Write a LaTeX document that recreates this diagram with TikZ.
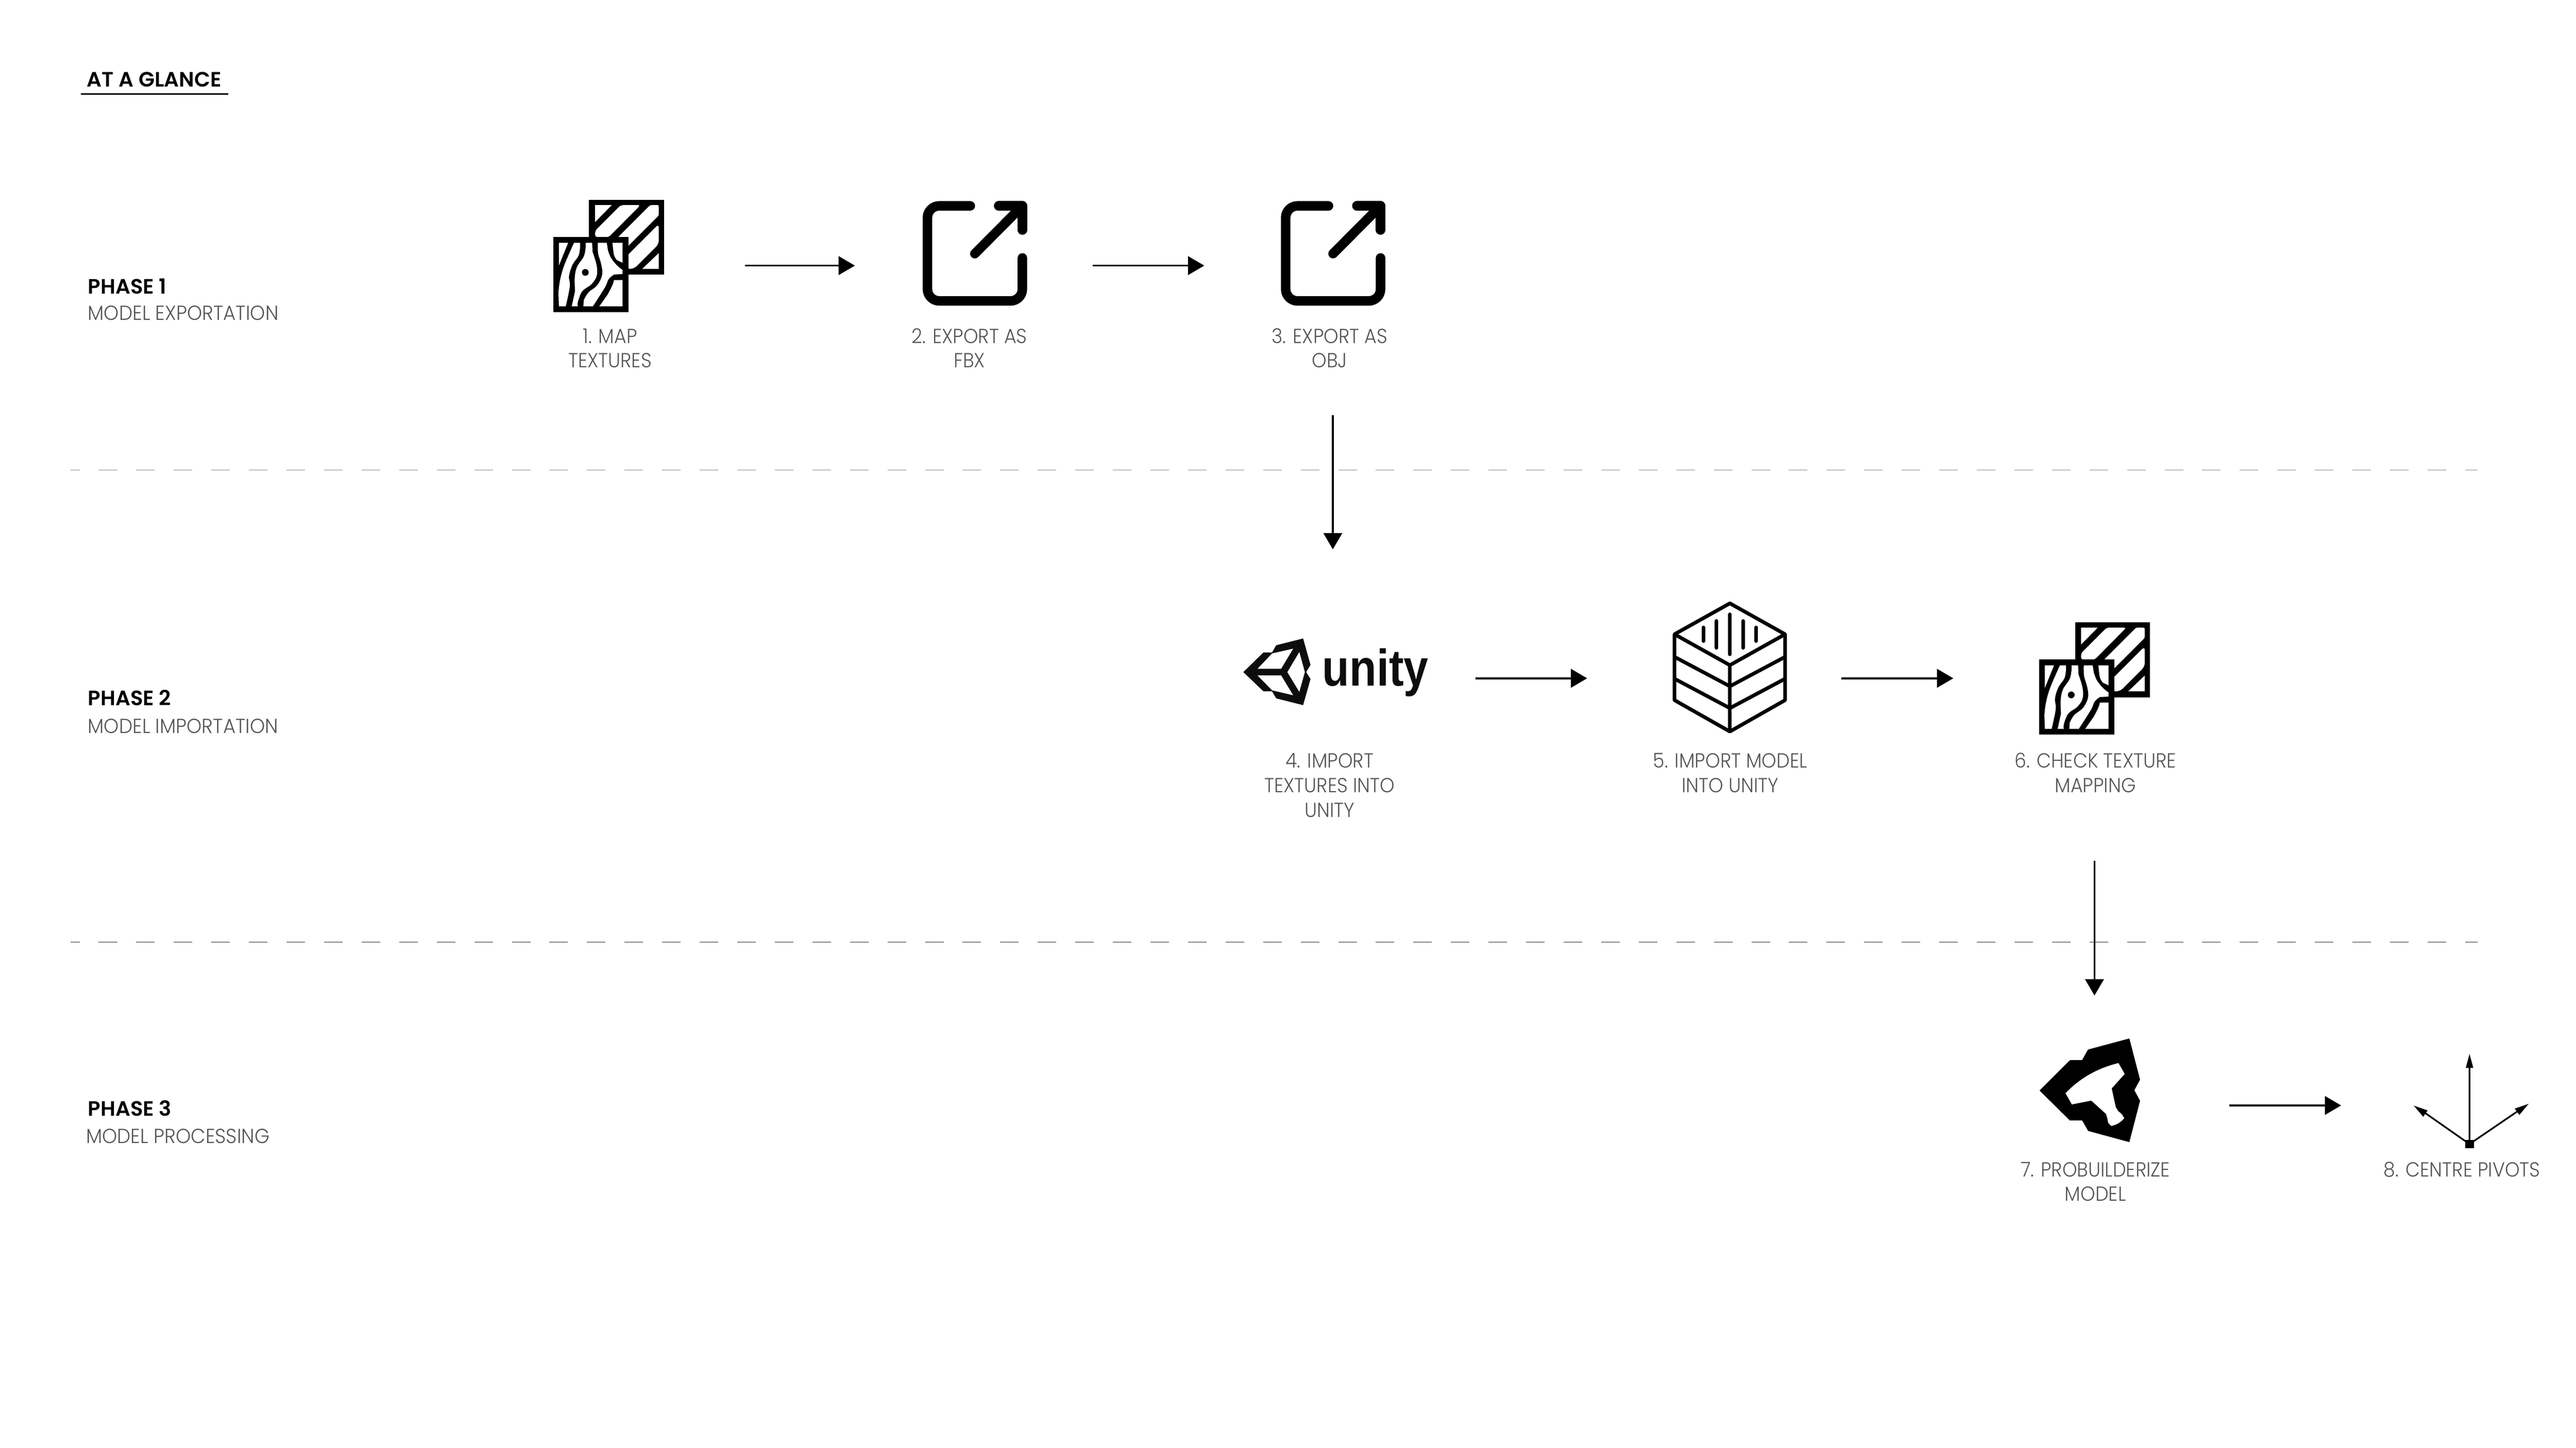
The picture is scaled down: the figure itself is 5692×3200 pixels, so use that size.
\documentclass[tikz,border=0pt]{standalone}
\usepackage{fontspec}
\usetikzlibrary{arrows.meta}
\setmainfont{Poppins}
\newfontfamily\lightf[FakeStretch=0.92]{Poppins Light}
\newfontfamily\subf[FakeStretch=0.94]{Poppins Light}
\newfontfamily\medf[FakeStretch=1.0]{Poppins SemiBold}
\newfontfamily\unityf{Liberation Sans}
\definecolor{lbl}{HTML}{555555}
\definecolor{dashc}{HTML}{888888}
\tikzset{
  flow/.style={line width=4pt,-{Triangle[length=36pt,width=41pt]}},
  slot/.style={inner sep=0pt,outer sep=0pt,draw=none},
  steplabel/.style={anchor=north,align=center,inner sep=0pt,text=lbl,font=\lightf\fontsize{45}{54.5}\selectfont},
  phasehead/.style={anchor=base west,inner sep=0pt,text=black,font=\medf\fontsize{46}{54}\selectfont},
  phasesub/.style={anchor=base west,inner sep=0pt,text=lbl,font=\subf\fontsize{45}{54}\selectfont},
  zoomed/.style={x=0.33333pt,y=-0.33333pt},
  divider/.style={line width=1.8pt,dashc,dash pattern=on 41pt off 42pt,dash phase=21pt},
  texicon/.pic={
    % back square
    \fill (455,124) rectangle (953,622);
    \fill[white] (495,160) -- (605,160) -- (495,272) -- cycle;
    \fill[white,rounded corners=5pt] (665,160) -- (795,160) -- (585,372) -- (495,372) -- (495,330) -- cycle;
    \fill[white,rounded corners=3pt] (860,160) -- (917,160) -- (917,228) -- (645,500) -- (645,375) -- cycle;
    \fill[white,rounded corners=8pt] (917,285) -- (917,418) -- (753,582) -- (700,582) -- (700,502) -- cycle;
    \fill[white] (917,478) -- (917,582) -- (808,582) -- cycle;
    % front square
    \fill (217,372) rectangle (715,869);
    \fill[white] (255,410) -- (316,410) -- (255,560) -- cycle;
    \fill[white] (355,410) -- (395,410) -- plot[smooth,tension=.6] coordinates {(395,440) (385,495) (345,555) (322,630) (327,700) (300,831)} -- (255,831) -- plot[smooth,tension=.6] coordinates {(252,740) (262,660) (290,560) (355,410)} -- cycle;
    \fill[white] (432,410) -- (475,410) -- plot[smooth,tension=.6] coordinates {(478,470) (505,560) (505,630) (470,685) (410,730) (381,800) (381,831)} -- (340,831) -- plot[smooth,tension=.6] coordinates {(362,730) (360,640) (375,570) (420,500) (432,440) (432,410)} -- cycle;
    \fill (430,606) circle[radius=7.5pt];
    \fill[white] (513,410) -- (572,410) -- plot[smooth,tension=.6] coordinates {(580,460) (600,510) (640,560) (677,590)} -- (677,617) -- plot[smooth,tension=.6] coordinates {(620,620) (585,650) (560,705) (480,831)} -- (417,831) -- plot[smooth,tension=.6] coordinates {(420,790) (450,740) (510,690) (542,620) (535,550) (515,480) (513,410)} -- cycle;
    \fill[white] (610,410) -- (677,410) -- (677,542) -- plot[smooth,tension=.6] coordinates {(640,525) (620,490) (610,410)} -- cycle;
    \fill[white] (620,657) -- (677,657) -- (677,831) -- (523,831) -- plot[smooth,tension=.6] coordinates {(580,750) (610,690) (620,657)} -- cycle;
  },
  exporticon/.pic={
    \draw[line width=21pt,line cap=round,rounded corners=26pt] (432,165) -- (148,165) -- (148,795) -- (777,795) -- (777,510);
    \draw[line width=21pt,line cap=round,line join=round] (462,482) -- (777,165);
    \draw[line width=21pt,line cap=round,line join=round] (620,165) -- (777,165) -- (777,325);
  }
}
\begin{document}
\begin{tikzpicture}[x=1pt,y=-1pt]
\useasboundingbox (0,0) rectangle (5692,3200);
\fill[white] (0,0) rectangle (5692,3200);

% title
\node[phasehead] (title) at (192,192) {AT A GLANCE};
\draw[line width=4pt] (179,208) -- (504,208);

% phase labels
\node[phasehead] (p1) at (194,650) {PHASE 1};
\node[phasesub] (p1s) at (194,707) {MODEL EXPORTATION};
\node[phasehead] (p2) at (194,1559) {PHASE 2};
\node[phasesub] (p2s) at (194,1621) {MODEL IMPORTATION};
\node[phasehead] (p3) at (194,2466) {PHASE 3};
\node[phasesub] (p3s) at (190,2527) {MODEL PROCESSING};

% dividers
\draw[divider] (156,1039) -- (5475,1039);
\draw[divider] (156,2082) -- (5475,2082);

% invisible slots the connectors run between
\node[slot,minimum width=592pt,minimum height=300pt] (s1) at (1350,587) {};
\node[slot,minimum width=525pt,minimum height=300pt] (s2) at (2151.5,587) {};
\node[slot,minimum width=568pt,minimum height=660pt] (s3) at (2945,587) {};
\node[slot,minimum width=630pt,minimum height=570pt] (s4) at (2945,1499) {};
\node[slot,minimum width=562pt,minimum height=300pt] (s5) at (3788,1499) {};
\node[slot,minimum width=624pt,minimum height=806pt] (s6) at (4628,1499) {};
\node[slot,minimum width=596pt,minimum height=486pt] (s7) at (4628,2443) {};
\node[slot,minimum width=574pt,minimum height=300pt] (s8) at (5460,2443) {};

\draw[flow] (s1) -- (s2);
\draw[flow] (s2) -- (s3);
\draw[flow] (s3) -- (s4);
\draw[flow] (s4) -- (s5);
\draw[flow] (s5) -- (s6);
\draw[flow] (s6) -- (s7);
\draw[flow] (s7) -- (s8);

% icons
\begin{scope}[shift={(1150,400)},zoomed] \pic {texicon}; \end{scope}
\begin{scope}[shift={(2000,400)},zoomed] \pic {exporticon}; \end{scope}
\begin{scope}[shift={(2791.5,400)},zoomed] \pic {exporticon}; \end{scope}
\begin{scope}[shift={(4433.3,1333.7)},zoomed] \pic {texicon}; \end{scope}

% unity
\begin{scope}[shift={(2720,1380)},zoomed]
  \fill[even odd rule,fill=black!95] (82,316) -- (215,186) -- (272,186) -- (300,138) -- (478,93) -- (527,268) -- (498,316) -- (527,362) -- (478,535) -- (300,490) -- (272,443) -- (215,443) -- cycle
   (175,294) -- (272,192) -- (413,160) -- (333,294) -- cycle
   (175,338) -- (333,338) -- (413,470) -- (272,437) -- cycle
   (373,316) -- (453,182) -- (490,316) -- (453,448) -- cycle;
\end{scope}
\node[anchor=base west,inner sep=0pt,text=black!95] (unitytxt) at (2922,1516) {\scalebox{.86}[1]{\unityf\bfseries\fontsize{114}{114}\selectfont unity}};

% stack
\begin{scope}[shift={(3680,1310)},zoomed]
  \draw[line width=8pt,line join=round] (427,70) -- (793,275) -- (793,712) -- (427,920) -- (60,712) -- (60,275) -- cycle;
  \draw[line width=8pt,line join=round] (60,275) -- (427,480) -- (793,275);
  \draw[line width=8pt] (60,425) -- (427,620) -- (793,425);
  \draw[line width=8pt] (60,570) -- (427,765) -- (793,570);
  \draw[line width=8pt] (427,480) -- (427,920);
  \draw[line width=8pt,line cap=round] (251,230) -- (251,320) (339,187) -- (339,365) (427,143) -- (427,408) (514,187) -- (514,365) (602,230) -- (602,320);
\end{scope}

% probuilder
\begin{scope}[shift={(4490,2270)},zoomed]
  \fill (50,420) -- (245,225) -- (255,218) -- (332,218) -- (370,150) -- (380,146) -- (645,75) -- (716,348) -- (678,418) -- (716,488) -- (645,762) -- (372,688) -- (332,618) -- (250,618) -- cycle;
  \fill[white] (222,438) .. controls (320,335) and (440,270) .. (573,238) -- (614,310) -- (528,406) -- (555,530) -- (570,555) -- (595,577) -- (611,603) .. controls (590,630) and (560,648) .. (525,655) -- (505,635) -- (498,600) -- (490,575) -- (393,487) -- (264,512) -- cycle;
\end{scope}

% pivots
\begin{scope}[shift={(5300,2310)},zoomed]
  \fill (443,627) rectangle (500,682);
  \draw[line width=3.7pt] (470,655) -- (470,140) (470,655) -- (170,445) (470,655) -- (785,440);
  \fill (470,58) -- (495,150) -- (445,150) -- cycle;
  \fill (100,400) -- (192,432) -- (163,474) -- cycle;
  \fill (862,388) -- (770,420) -- (800,462) -- cycle;
\end{scope}

% step labels
\node[steplabel] (l1) at (1348,718) {\rule{0pt}{40pt}1. MAP\\TEXTURES};
\node[steplabel] (l2) at (2142,718) {\rule{0pt}{40pt}2. EXPORT AS\\FBX};
\node[steplabel] (l3) at (2938,718) {\rule{0pt}{40pt}3. EXPORT AS\\OBJ};
\node[steplabel] (l4) at (2938,1657) {\rule{0pt}{40pt}4. IMPORT\\TEXTURES INTO\\UNITY};
\node[steplabel] (l5) at (3823,1657) {\rule{0pt}{40pt}5. IMPORT MODEL\\INTO UNITY};
\node[steplabel] (l6) at (4630,1657) {\rule{0pt}{40pt}6. CHECK TEXTURE\\MAPPING};
\node[steplabel] (l7) at (4630,2560) {\rule{0pt}{40pt}7. PROBUILDERIZE\\MODEL};
\node[steplabel] (l8) at (5440,2560) {\rule{0pt}{40pt}8. CENTRE PIVOTS};
\end{tikzpicture}
\end{document}
